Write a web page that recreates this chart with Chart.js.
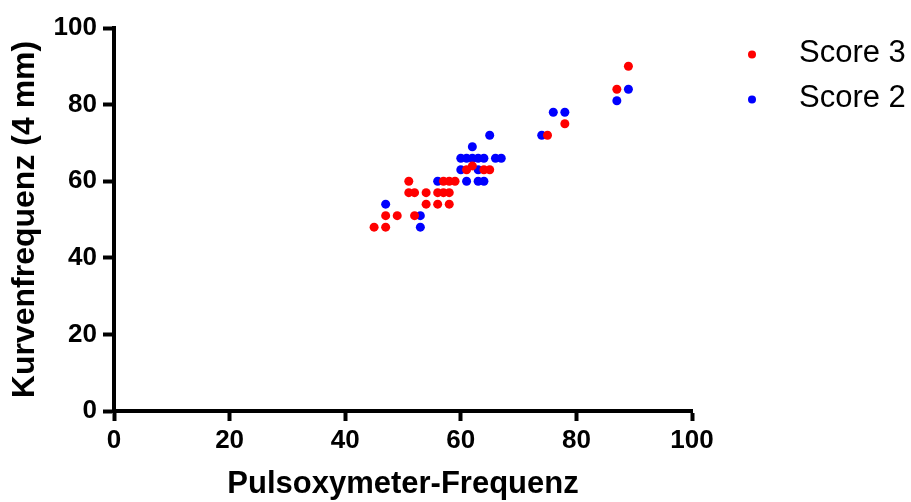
<!DOCTYPE html>
<html>
<head>
<meta charset="utf-8">
<script src="https://cdn.jsdelivr.net/npm/chart.js@4"></script>
<style>
  html, body { margin: 0; padding: 0; background: #fff; }
  #wrap { width: 911px; height: 502px; }
</style>
</head>
<body>
<div id="wrap"><canvas id="chart" width="911" height="502"></canvas></div>
<script>
/* ---------- data ---------- */
const seriesNames = ['Score 3', 'Score 2'];
const seriesColors = ['#ff0000', '#0000ff'];

// Score 3 (red): pulse oximeter rate vs. curve rate
const score3X = [45, 47, 47, 49, 52, 51, 52, 51, 54, 54, 56, 58, 56, 57, 58, 57, 58, 59, 61, 62, 64, 65, 75, 78, 87, 89];
const score3Y = [48, 48, 51, 51, 51, 57, 57, 60, 54, 57, 54, 54, 57, 57, 57, 60, 60, 60, 63, 64, 63, 63, 72, 75, 84, 90];

// Score 2 (blue)
const score2X = [47, 53, 53, 56, 60, 63, 60, 61, 62, 63, 64, 66, 67, 62, 65, 61, 63, 64, 74, 76, 78, 87, 89];
const score2Y = [54, 51, 48, 60, 63, 63, 66, 66, 66, 66, 66, 66, 66, 69, 72, 60, 60, 60, 72, 78, 78, 81, 84];

const xTicks = [0, 20, 40, 60, 80, 100];
const yTicks = [0, 20, 40, 60, 80, 100];

/* ---------- helpers ---------- */
const toPoints = (xs, ys) => xs.map((x, i) => ({ x, y: ys[i] }));
const FONT = '"Liberation Sans", Arial, sans-serif';

/* ---------- legend at the right (drawn on canvas) ---------- */
const sideLegend = {
  id: 'sideLegend',
  afterDraw(chart) {
    const ctx = chart.ctx;
    ctx.save();
    chart.data.datasets.forEach((ds, i) => {
      const y = 53 + i * 45;
      ctx.beginPath();
      ctx.arc(752, y + 1.5, 4, 0, Math.PI * 2);
      ctx.fillStyle = ds.backgroundColor;
      ctx.fill();
      ctx.font = '31px ' + FONT;
      ctx.fillStyle = '#000';
      ctx.textBaseline = 'middle';
      ctx.textAlign = 'left';
      ctx.fillText(ds.label, 799, y);
    });
    ctx.restore();
  }
};

const axisCommon = (ticks, tickLen, pad) => ({
  type: 'linear',
  min: ticks[0],
  max: ticks[ticks.length - 1],
  afterBuildTicks: s => { s.ticks = ticks.map(v => ({ value: v })); },
  ticks: {
    color: '#000',
    padding: pad,
    font: { family: FONT, size: 26, weight: 'bold', lineHeight: 1.2 }
  },
  grid: {
    display: true,
    drawOnChartArea: false,
    drawTicks: true,
    tickLength: tickLen,
    tickWidth: 4,
    tickColor: '#000'
  },
  border: { display: true, color: '#000', width: 4 }
});

const xAxis = axisCommon(xTicks, 10, 4);
xAxis.title = {
  display: true,
  text: 'Pulsoxymeter-Frequenz',
  color: '#000',
  font: { family: FONT, size: 31, weight: 'bold', lineHeight: 1 },
  padding: { top: 0, bottom: 2 }
};
xAxis.afterFit = s => { s.height = 91; };

const yAxis = axisCommon(yTicks, 11, 6);
yAxis.title = {
  display: true,
  text: 'Kurvenfrequenz (4 mm)',
  color: '#000',
  font: { family: FONT, size: 32, weight: 'bold', lineHeight: 1 },
  padding: { top: 9, bottom: 0 }
};
yAxis.afterFit = s => { s.width = 114; };

new Chart(document.getElementById('chart'), {
  type: 'scatter',
  data: {
    datasets: [
      {
        label: seriesNames[0],
        data: toPoints(score3X, score3Y),
        backgroundColor: seriesColors[0],
        borderWidth: 0,
        pointRadius: 4.5
      },
      {
        label: seriesNames[1],
        data: toPoints(score2X, score2Y),
        backgroundColor: seriesColors[1],
        borderWidth: 0,
        pointRadius: 4.5
      }
    ]
  },
  options: {
    responsive: false,
    devicePixelRatio: 1,
    animation: false,
    layout: { padding: { top: 28, right: 219, bottom: 0, left: 0 } },
    plugins: {
      legend: { display: false },
      tooltip: { enabled: false }
    },
    scales: { x: xAxis, y: yAxis }
  },
  plugins: [sideLegend]
});
</script>
</body>
</html>
